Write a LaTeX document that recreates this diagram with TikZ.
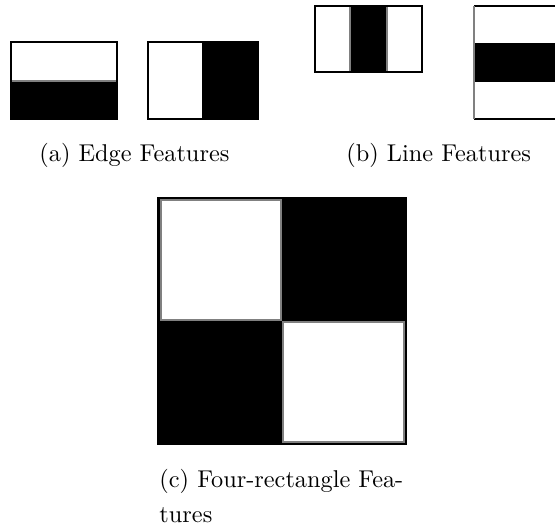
\documentclass[tikz,border=0pt]{standalone}
\begin{document}
\begin{tikzpicture}[x=0.43pt,y=-0.43pt,
  frame/.style={draw=black,line width=0.6pt},
  split/.style={draw=gray,line width=0.5pt},
  captxt/.style={anchor=base west,inner sep=0pt,font=\fontsize{10.45}{12.5}\selectfont}]
\useasboundingbox (0,0) rectangle (555,529);
\clip (0,0) rectangle (555,529);
% (a) edge features
\fill[black] (11,81) rectangle (117,119);
\draw[split] (11,81) -- (117,81);
\draw[frame] (11,42) rectangle (117,119);
\fill[black] (202,42) rectangle (258,119);
\draw[frame] (148,42) rectangle (258,119);
% (b) line features
\fill[black] (350,6) rectangle (387,72);
\draw[split] (350,6) -- (350,72) (387,6) -- (387,72);
\draw[frame] (315,6) rectangle (422,72);
\fill[black] (474,43) rectangle (590,82);
\draw[frame] (474,6) -- (590,6) (474,119) -- (590,119);
\draw[split] (474,6) -- (474,119);
% (c) four-rectangle features
\fill[black] (158,198) rectangle (406,444);
\draw[frame] (158,198) rectangle (406,444);
\filldraw[fill=white,draw=gray,line width=0.5pt] (161,200) rectangle (281,320);
\filldraw[fill=white,draw=gray,line width=0.5pt] (283,322) rectangle (404,442);
% captions
\node[captxt] (capa) at (39,161) {(a) Edge Features};
\node[captxt] (capb) at (346,161) {(b) Line Features};
\node[captxt] (capc1) at (159,487) {(c) Four-rectangle Fea-};
\node[captxt] (capc2) at (159,522) {tures};
\end{tikzpicture}
\end{document}
